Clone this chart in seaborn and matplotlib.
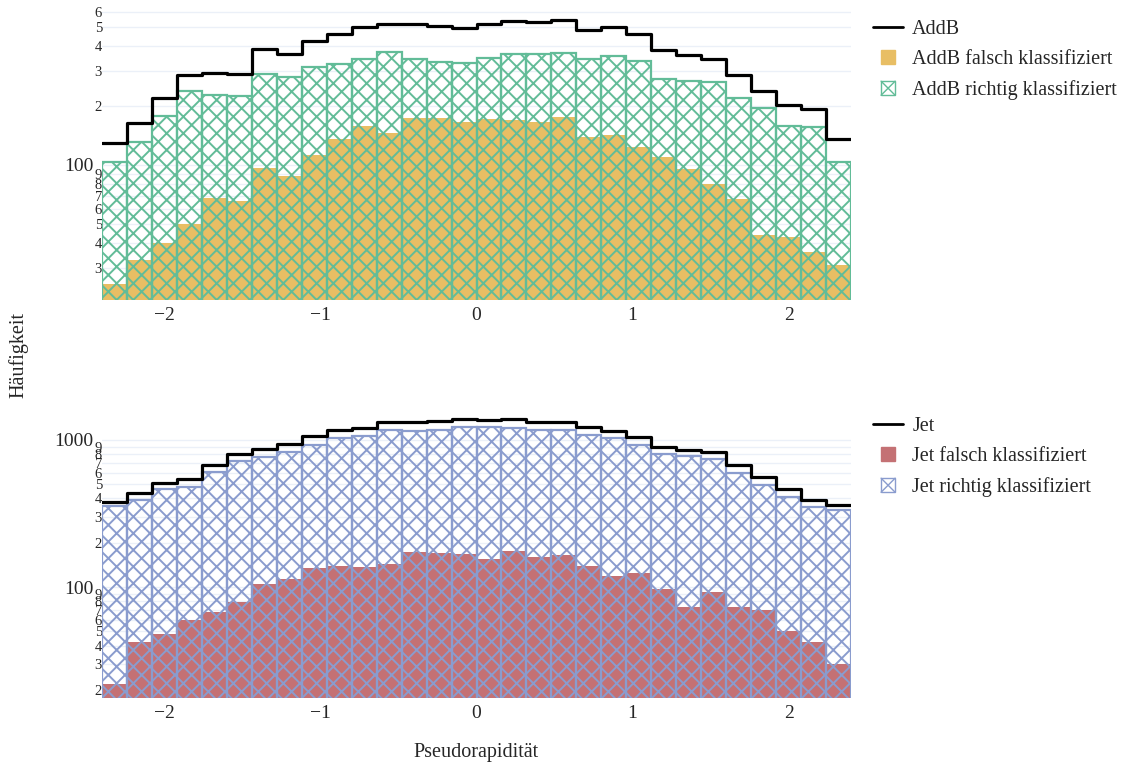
import matplotlib
matplotlib.use("Agg")
import matplotlib.pyplot as plt
import matplotlib.patches as mpatches
from matplotlib.lines import Line2D
from matplotlib.legend_handler import HandlerBase
from matplotlib.ticker import FixedLocator, FixedFormatter
import numpy as np
import pandas as pd
import seaborn as sns

# 30 bins in pseudorapidity, width 0.16
BIN_EDGES = [round(-2.4 + 0.16 * i, 2) for i in range(31)]

addb_falsch = [25, 33, 40, 50, 68, 66, 97, 88, 112, 136, 158, 145, 173, 173, 166,
               171, 169, 165, 175, 139, 142, 123, 110, 95, 80, 67, 44, 43, 36, 31]
addb_richtig = [104, 131, 178, 237, 226, 223, 290, 280, 313, 326, 344, 376, 344, 333, 328,
                350, 367, 366, 370, 346, 358, 337, 273, 266, 265, 220, 194, 158, 156, 104]

jet_falsch = [22, 42, 48, 60, 68, 79, 105, 113, 134, 139, 137, 143, 172, 170, 168,
              155, 176, 160, 165, 139, 119, 125, 97, 73, 93, 73, 70, 50, 42, 30]
jet_richtig = [356, 391, 462, 481, 609, 723, 770, 833, 925, 1037, 1070, 1175, 1151, 1170, 1220,
               1220, 1207, 1164, 1170, 1081, 1037, 925, 799, 778, 739, 599, 492, 411, 348, 332]

PANELS = [
    {"name": "AddB", "falsch": addb_falsch, "richtig": addb_richtig,
     "fill": "#E8BE64", "hatch": "#62BC98", "ylim": (20.64, 672),
     "major": [100], "minor": [20, 30, 40, 50, 60, 70, 80, 90, 200, 300, 400, 500, 600, 700, 800, 900]},
    {"name": "Jet", "falsch": jet_falsch, "richtig": jet_richtig,
     "fill": "#C47174", "hatch": "#8A9CCE", "ylim": (17.58, 1871),
     "major": [100, 1000], "minor": [20, 30, 40, 50, 60, 70, 80, 90, 200, 300, 400, 500, 600, 700, 800, 900]},
]

W, H = 1124, 766
GRID = "#EBF0F8"
FONT = ["Liberation Serif", "DejaVu Serif"]


class BoxHandler(HandlerBase):
    """Small square legend key, crossed when the patch is hatched."""

    def create_artists(self, legend, orig_handle, xdescent, ydescent, width, height, fontsize, trans):
        s = fontsize * 0.7
        cx = width / 2 - xdescent
        cy = height / 2 - ydescent
        x0, y0 = cx - s / 2, cy - s / 2
        edge = orig_handle.get_edgecolor()
        rect = mpatches.Rectangle((x0, y0), s, s, facecolor=orig_handle.get_facecolor(),
                                  edgecolor=edge, linewidth=1.0, transform=trans)
        artists = [rect]
        if orig_handle.get_hatch():
            artists.append(Line2D([x0, x0 + s], [y0, y0 + s], color=edge, lw=1.0, transform=trans))
            artists.append(Line2D([x0, x0 + s], [y0 + s, y0], color=edge, lw=1.0, transform=trans))
        return artists


def draw_panel(fig, rect_px, panel, legend_top_px):
    left, top, right, bottom = rect_px
    ax = fig.add_axes([left / W, 1 - bottom / H, (right - left) / W, (bottom - top) / H])

    edges = np.array(BIN_EDGES)
    centers = (edges[:-1] + edges[1:]) / 2
    df = pd.DataFrame({"eta": centers, "falsch": panel["falsch"], "richtig": panel["richtig"]})
    df["gesamt"] = df["falsch"] + df["richtig"]

    sns.histplot(data=df, x="eta", weights="falsch", bins=BIN_EDGES, element="bars",
                 fill=True, color=panel["fill"], alpha=1, linewidth=0, ax=ax)
    sns.histplot(data=df, x="eta", weights="richtig", bins=BIN_EDGES, element="bars",
                 fill=False, color=panel["hatch"], hatch="xx", linewidth=1.6, ax=ax)
    sns.histplot(data=df, x="eta", weights="gesamt", bins=BIN_EDGES, element="step",
                 fill=False, color="black", linewidth=2.3, ax=ax)

    ax.set_yscale("log")
    ax.set_xlim(-2.4, 2.4)
    ax.set_ylim(*panel["ylim"])
    ax.set_xlabel("")
    ax.set_ylabel("")

    ax.set_xticks([-2, -1, 0, 1, 2])
    ax.yaxis.set_major_locator(FixedLocator(panel["major"]))
    ax.yaxis.set_major_formatter(FixedFormatter([str(v) for v in panel["major"]]))
    ax.yaxis.set_minor_locator(FixedLocator(panel["minor"]))
    ax.yaxis.set_minor_formatter(FixedFormatter([str(v)[0] for v in panel["minor"]]))
    ax.tick_params(axis="x", length=0, pad=5, labelsize=14)
    ax.tick_params(axis="y", which="major", length=0, pad=6, labelsize=14)
    ax.tick_params(axis="y", which="minor", length=0, pad=0, labelsize=10.5)
    ax.grid(False)
    ax.grid(True, which="both", axis="y", color=GRID, linewidth=1.0)
    ax.set_axisbelow(True)
    for sp in ax.spines.values():
        sp.set_visible(False)

    handles = [
        Line2D([], [], color="black", linewidth=2.0),
        mpatches.Patch(facecolor=panel["fill"], edgecolor=panel["fill"]),
        mpatches.Patch(facecolor="white", edgecolor=panel["hatch"], hatch="x"),
    ]
    labels = [panel["name"], panel["name"] + " falsch klassifiziert",
              panel["name"] + " richtig klassifiziert"]
    fig.legend(handles, labels, loc="upper left",
               bbox_to_anchor=(873 / W, 1 - legend_top_px / H),
               frameon=False, fontsize=14.5, borderpad=0, borderaxespad=0,
               handlelength=1.5, handletextpad=0.45, labelspacing=0.55,
               handler_map={mpatches.Patch: BoxHandler()})
    return ax


sns.set_theme(style="white")
plt.rcParams["font.family"] = FONT
plt.rcParams["hatch.linewidth"] = 1.4
plt.rcParams["axes.unicode_minus"] = True

fig = plt.figure(figsize=(W / 100, H / 100), dpi=100)
draw_panel(fig, (102, 2, 851, 300), PANELS[0], 20)
draw_panel(fig, (102, 400, 851, 698), PANELS[1], 417)

fig.text(476 / W, 1 - 752 / H, "Pseudorapidität", ha="center", va="center", fontsize=14.5)
fig.text(18 / W, 1 - 355 / H, "Häufigkeit", ha="center", va="center", rotation=90, fontsize=14.5)

fig.savefig("out.png", dpi=100)
